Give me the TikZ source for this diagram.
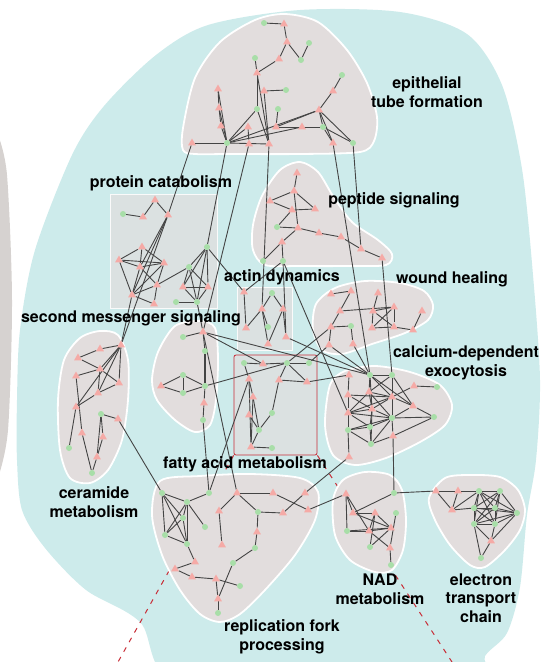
\documentclass[tikz,border=0pt]{standalone}
\usepackage{fontspec}
\setmainfont{TeX Gyre Heros}
\usetikzlibrary{shapes.geometric}
\pgfdeclarelayer{bg}
\pgfdeclarelayer{edgelayer}
\pgfsetlayers{bg,edgelayer,main}
\definecolor{tealbg}{RGB}{205,235,235}
\definecolor{blobgrey}{RGB}{226,221,221}
\definecolor{rectgrey}{RGB}{219,225,225}
\definecolor{arcgrey}{RGB}{214,210,208}
\definecolor{nodegreen}{RGB}{168,222,168}
\definecolor{nodepink}{RGB}{245,170,166}
\definecolor{edgecol}{RGB}{68,68,68}
\definecolor{redline}{RGB}{200,45,55}
\tikzset{
  gn/.style={circle,fill=nodegreen,inner sep=0pt,minimum size=6pt},
  tn/.style={regular polygon,regular polygon sides=3,fill=nodepink,inner sep=0pt,minimum size=9pt},
  edge/.style={draw=edgecol,line width=0.9pt},
  blob/.style={fill=blobgrey,draw=white,line width=1.8pt},
  rectbox/.style={fill=rectgrey,draw=white!85!rectgrey,line width=0.8pt,inner sep=0pt},
  lab/.style={font=\bfseries\fontsize{16}{18.5}\selectfont,align=center,inner sep=0pt},
  reddash/.style={draw=redline,line width=1pt,dash pattern=on 5pt off 6pt}
}
\begin{document}
\begin{tikzpicture}[x=1pt,y=-1pt]
\useasboundingbox (0,0) rectangle (542,662);

% ---------------- background shapes ----------------
\begin{pgfonlayer}{bg}
\begin{scope}
\clip (0,0) rectangle (542,662);
\fill[arcgrey] plot[smooth] coordinates {(-2,135) (7,175) (12,300) (8,430) (-2,478)} -- (-20,478) -- (-20,135) -- cycle;
\fill[tealbg] plot[smooth cycle] coordinates {
 (72,155) (104,106) (156,55) (208,25) (300,10) (400,12) (467,34) (502,85)
 (522,169) (533,275) (540,380) (536,460) (527,515) (520,587) (507,633)
 (485,656) (470,690) (190,690) (140,622) (86,590) (45,548) (22,510)
 (17,460) (17,400) (20,330) (35,250)};
\end{scope}
% rectangles
\node[rectbox,minimum width=107pt,minimum height=114pt] (protrect) at (163.5,251) {};
\node[rectbox,minimum width=55pt,minimum height=63pt] (actrect) at (264.5,318.5) {};
\node[rectbox,draw=redline,line width=0.8pt,rounded corners=2pt,minimum width=83pt,minimum height=100pt] (fatrect) at (275.5,405) {};
% red dashed guide lines
\coordinate (dashL) at (118,662);
\coordinate (dashR) at (452,662);
\draw[reddash] (fatrect.south west) -- (dashL);
\draw[reddash] (fatrect.south east) -- (dashR);
% grey blobs
\draw[blob] plot[smooth cycle] coordinates {(183,150) (183,128) (195,78) (220,42) (255,20) (285,14) (318,22) (347,50) (367,83) (377,117) (374,141) (360,152) (300,154) (230,154) (195,154)};
\draw[blob] plot[smooth cycle] coordinates {(300,162) (318,172) (333,196) (352,222) (378,240) (392,254) (386,265) (350,266) (300,266) (265,265) (253,250) (253,225) (262,196) (280,170)};
\draw[blob] plot[smooth cycle] coordinates {(316,304) (335,288) (365,281) (400,283) (424,291) (433,305) (428,320) (405,333) (372,344) (342,354) (322,350) (313,330)};
\draw[blob] plot[smooth cycle] coordinates {(330,385) (345,371) (375,366) (410,372) (440,385) (452,405) (445,425) (420,442) (386,458) (355,465) (333,455) (325,425)};
\draw[blob] plot[smooth cycle] coordinates {(100,331) (118,335) (128,360) (128,400) (122,440) (108,470) (90,483) (70,478) (60,450) (58,400) (64,360) (80,338)};
\draw[blob] plot[smooth cycle] coordinates {(175,326) (200,321) (215,328) (218,360) (216,400) (210,425) (195,432) (175,420) (157,400) (152,380) (158,352)};
\draw[blob] plot[smooth cycle] coordinates {(160,481) (200,476) (250,474) (300,478) (318,492) (315,520) (295,555) (265,590) (240,614) (220,622) (200,614) (180,590) (162,555) (152,515)};
\draw[blob] plot[smooth cycle] coordinates {(365,472) (390,475) (402,490) (406,520) (403,550) (392,570) (375,572) (350,560) (335,535) (333,500) (343,480)};
\draw[blob] plot[smooth cycle] coordinates {(445,478) (470,475) (500,477) (518,490) (525,510) (520,530) (505,550) (485,567) (470,565) (450,545) (435,520) (429,498)};
\end{pgfonlayer}

% ---------------- network nodes ----------------
% green nodes
\foreach \n/\x/\y in {
 e1/264/23, e4/309/43, e6/301/60, e7/255/58, e9/342/75, e11/286/90, e15/257/109, e16/278/109, e22/323/127, e24/227/143, e28/353/143,
 p2/123/214,
 s1/207/247, s2/189/267, s5/176/302, s6/197/302,
 m1/183/337, m3/205/351, m4/183/375, m6/183/393, m7/205/386, m9/203/420,
 a2/272/293, a5/268/327,
 f1/244/363, f3/287/363, f4/309/363, f10/272/413, f11/259/430, f13/272/448,
 q6/277/227, q13/263/261, q14/283/261,
 w9/351/326,
 c2/370/375, c3/392/375, c5/437/387, c12/392/418, c13/434/417, c14/348/430, c15/370/427, c17/371/444,
 r9/101/414, r13/69/448, r15/92/473,
 b1/162/493, b2/187/502, b3/209/493, b7/183/518, b9/258/512, b12/205/527, b13/165/535, b14/187/544, b17/255/548, b19/233/563, b23/240/586, b25/218/613,
 d2/394/493, d5/396/513, d6/347/531, d9/370/547, d11/391/565,
 x3/479/491, x4/500/491, x6/474/508, x7/495/508, x8/517/513, x9/474/524, x10/495/524, x12/481/558}
 \node[gn] (\n) at (\x,\y) {};
% pink triangle nodes
\foreach \n/\x/\y in {
 e2/284/24, e3/287/42, e5/279/59, e8/257/73, e10/264/91, e12/218/89, e13/333/91, e14/219/108, e17/319/110, e18/221/126, e19/248/127, e20/276/127, e21/302/127, e23/192/143, e25/249/144, e26/269/144, e27/333/143,
 p1/155/200, p3/143/217, p4/168/215, p5/142/247, p6/119/260, p7/140/267, p8/164/263, p9/157/285, p10/132/295, p11/154/304,
 s3/183/287, s4/208/287,
 m2/203/332, m5/161/386, m8/204/403,
 a1/244/292, a3/262/309, a4/283/309, a6/246/328, a7/268/344, a8/286/337,
 f2/263/364, f5/249/379, f6/279/380, f7/307/382, f8/253/397, f9/249/415, f12/251/447,
 q1/297/173, q2/294/191, q3/270/201, q4/292/210, q5/315/209, q7/298/228, q8/319/233, q9/341/237, q10/361/249, q11/382/258, q12/282/242,
 w1/331/294, w2/351/291, w3/378/293, w4/340/311, w5/373/311, w6/394/307, w7/422/311, w8/331/327, w10/372/328, w11/394/327, w12/413/330, w13/329/345, w14/353/344,
 c1/349/375, c4/414/386, c6/348/395, c7/369/392, c8/392/397, c9/413/406, c10/348/413, c11/372/409, c16/393/436, c18/349/457,
 r1/100/349, r2/121/345, r3/78/358, r4/76/376, r5/100/369, r6/119/383, r7/98/393, r8/76/407, r10/118/419, r11/82/433, r12/103/437, r14/97/457,
 b4/237/493, b5/273/493, b6/305/493, b8/219/511, b10/283/513, b11/308/510, b15/222/545, b16/257/532, b18/195/562, b20/175/569, b21/192/577, b22/216/579, b24/218/599,
 d1/346/494, d3/353/513, d4/375/513, d7/369/531, d8/391/528, d10/390/548,
 x1/436/491, x2/458/491, x5/452/510, x11/491/541}
 \node[tn] (\n) at (\x,\y) {};

% ---------------- connectors ----------------
\begin{pgfonlayer}{edgelayer}
\foreach \a/\b in {
 e1/e2, e2/e3, e3/e5, e3/e6, e6/e4, e5/e8, e7/e8, e8/e15, e8/e26, e10/e11, e10/e26, e15/e26, e15/e24,
 e12/e14, e12/e24, e14/e18, e14/e24, e18/e24, e23/e24, e24/e26, e24/e19, e24/e17, e24/e21, e20/e22,
 e16/e20, e19/e25, e17/e22, e17/e28, e17/e27, e22/e28, e22/e27, e13/e9, e13/e17, e20/e17,
 p2/p3, p3/p1, p1/p4, p4/p7, p4/p10, p5/p6, p5/p7, p5/p8, p6/p7, p6/p8, p7/p8, p7/p9, p7/p10, p8/p9, p8/p10, p9/p11, p10/p9, p10/p11, p6/p10,
 s1/s2, s1/s3, s1/s4, s1/s6, s2/s3, s2/s4, s2/s6, s3/s4, s3/s6, s4/s6, s5/s6, s2/p9,
 m1/m2, m2/m3, m7/m8, m8/m9, m5/m4, m5/m6, m4/m6, m4/m7, m6/m7, s6/m2,
 a1/a6, a2/a3, a2/a4, a3/a6, a3/a7, a4/a7, a4/a8, a3/a5,
 f1/f5, f2/f3, f3/f4, f3/f6, f3/f7, f6/f7, f6/f10, f5/f8, f5/f12, f8/f11, f9/f11, f8/f12, f10/f11, f11/f12, f12/f13, f1/f2,
 q1/q2, q2/q3, q2/q5, q3/q4, q4/q5, q2/q7, q4/q6, q6/q7, q7/q8, q8/q9, q9/q10, q10/q11, q7/q12, q12/q13, q12/q14,
 w1/w2, w2/w4, w4/w8, w4/w6, w3/w5, w5/w6, w5/w10, w6/w10, w10/w11, w5/w11, w6/w11, w7/w12, w8/w9, w11/w12, w8/w13, w9/w14,
 c1/c6, c6/c10, c10/c14, c14/c18, c2/c7, c2/c8, c2/c11, c2/c9, c3/c7, c3/c8, c3/c9, c3/c12, c4/c5, c4/c8,
 c7/c10, c7/c11, c7/c8, c7/c12, c8/c11, c8/c12, c8/c9, c9/c13, c9/c12, c10/c11, c10/c12, c10/c15, c11/c15,
 c11/c12, c11/c17, c12/c15, c12/c17, c14/c15, c14/c17, c15/c17, c16/c12, c16/c17, c6/c11, c6/c8, c14/c12, c12/c13, c16/c13, c2/c3, c10/c8,
 r3/r1, r1/r2, r3/r5, r2/r5, r2/r7, r2/r6, r2/r8, r5/r7, r5/r6, r7/r8, r4/r5, r4/r11, r8/r13, r11/r15, r9/r10, r9/r12, r9/r14, r12/r14, r14/r15, r6/r7,
 b1/b2, b1/b7, b1/b13, b1/b14, b2/b13, b2/b7, b2/b14, b7/b13, b7/b14, b13/b14, b2/b3, b2/b12, b14/b18, b18/b20, b20/b21, b21/b22,
 b22/b23, b22/b24, b19/b24, b24/b25, b19/b17, b17/b16, b16/b9, b9/b4, b4/b8, b8/b15, b4/b5, b5/b11, b9/b10, b10/b6,
 d1/d3, d1/d7, d2/d3, d3/d4, d1/d6, d6/d7, d7/d8, d6/d8, d4/d8, d4/d7, d3/d8, d9/d8, d5/d10, d10/d11, d7/d10, d4/d9,
 x1/x2, x2/x3, x3/x4, x1/x5, x2/x5, x5/x3, x5/x6, x3/x6, x3/x7, x3/x9, x3/x10, x4/x6, x4/x7, x4/x8, x4/x10, x6/x7, x6/x9, x6/x10,
 x6/x8, x7/x8, x7/x9, x7/x10, x8/x9, x8/x10, x8/x11, x9/x10, x9/x11, x10/x11, x11/x12, x9/x12, x4/x9, x3/x8,
 e23/p4, e24/s1, e25/m2, e26/a3, e27/c2, e28/q10, q11/c3, p4/r2, p10/r2, s1/a1, m2/c2, m2/f2, m7/f3, f3/w8, m9/b3, m2/b4,
 r10/b1, a1/q14, q14/a8, q14/c10, a8/c2, w13/c2, w14/c2, f7/c1, f4/w13, c18/b6, c16/d2, b11/d1, d2/x1, f5/b3}
 \draw[edge] (\a) -- (\b);
\draw[edge,line width=1.5pt] (m3) -- (m7);
\end{pgfonlayer}

% ---------------- labels ----------------
\node[lab] (lepi) at (427,92) {epithelial\\tube formation};
\node[lab] (lprot) at (161,183) {protein catabolism};
\node[lab] (lpep) at (394,200) {peptide signaling};
\node[lab] (lact) at (282,277) {actin dynamics};
\node[lab] (lwound) at (452,279) {wound healing};
\node[lab] (lsec) at (131,318) {second messenger signaling};
\node[lab] (lcal) at (466,363) {calcium-dependent\\exocytosis};
\node[lab] (lfat) at (245,464) {fatty acid metabolism};
\node[lab] (lcer) at (94,502) {ceramide\\metabolism};
\node[lab] (lrep) at (282,637) {replication fork\\processing};
\node[lab] (lnad) at (380,589) {NAD\\metabolism};
\node[lab] (letc) at (481,598) {electron\\transport\\chain};
\end{tikzpicture}
\end{document}
